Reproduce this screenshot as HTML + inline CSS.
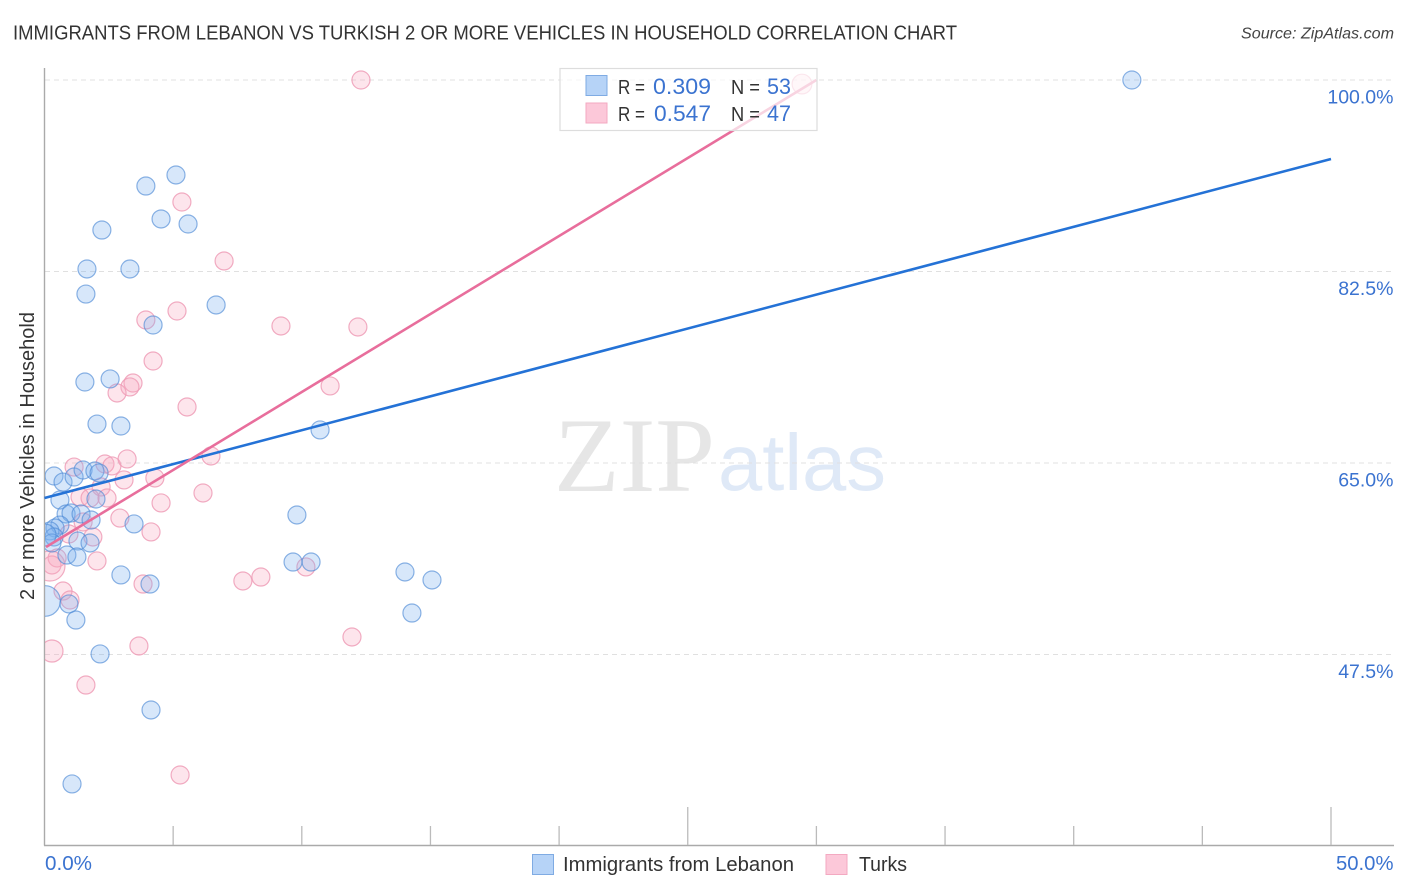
<!DOCTYPE html>
<html lang="en">
<head>
<meta charset="utf-8">
<title>Immigrants from Lebanon vs Turkish 2 or more Vehicles in Household Correlation Chart</title>
<style>
html,body{margin:0;padding:0;background:#fff;width:1406px;height:892px;overflow:hidden}
svg{display:block;font-family:"Liberation Sans",sans-serif}
</style>
</head>
<body>
<svg id="chart" xmlns="http://www.w3.org/2000/svg" width="1406" height="892" viewBox="0 0 1406 892">
  <defs>
    <clipPath id="plot-clip"><rect x="45" y="60" width="1349" height="785"/></clipPath>
  </defs>
  <rect x="0" y="0" width="1406" height="892" fill="#fff"/>
  <text x="13" y="39.5" font-size="20" fill="#333" textLength="944" lengthAdjust="spacingAndGlyphs">IMMIGRANTS FROM LEBANON VS TURKISH 2 OR MORE VEHICLES IN HOUSEHOLD CORRELATION CHART</text>
  <text x="1241" y="38.5" font-size="16" font-style="italic" fill="#444" textLength="153" lengthAdjust="spacingAndGlyphs">Source: ZipAtlas.com</text>

  <g>
    <text x="554" y="491" font-family="'Liberation Serif',serif" font-size="106" fill="#e6e6e6" textLength="161" lengthAdjust="spacingAndGlyphs">ZIP</text>
    <text x="718" y="490" font-size="80" fill="#dfe9f7" textLength="168" lengthAdjust="spacingAndGlyphs">atlas</text>
  </g>

  <g id="grid"></g>
  <g id="axes"></g>
  <g id="points" clip-path="url(#plot-clip)"></g>
  <g id="trends"></g>

  <g>
    <rect x="560" y="68.5" width="257" height="62" fill="#fff" fill-opacity="0.7" stroke="#ddd" stroke-width="1.2"/>
    <rect x="586" y="75.5" width="21" height="20" fill="#b6d3f7" stroke="#7fabe3" stroke-width="1"/>
    <rect x="586" y="103" width="21" height="20" fill="#fcc8d9" stroke="#f3a9c1" stroke-width="1"/>
    <text x="618" y="94" font-size="20.5" fill="#333" textLength="27" lengthAdjust="spacingAndGlyphs">R =</text>
    <text x="653" y="94" font-size="22" fill="#3b73d0" textLength="58" lengthAdjust="spacingAndGlyphs">0.309</text>
    <text x="731" y="94" font-size="20.5" fill="#333" textLength="29" lengthAdjust="spacingAndGlyphs">N =</text>
    <text x="767" y="94" font-size="22" fill="#3b73d0" textLength="24" lengthAdjust="spacingAndGlyphs">53</text>
    <text x="618" y="121" font-size="20.5" fill="#333" textLength="27" lengthAdjust="spacingAndGlyphs">R =</text>
    <text x="654" y="121" font-size="22" fill="#3b73d0" textLength="57" lengthAdjust="spacingAndGlyphs">0.547</text>
    <text x="731" y="121" font-size="20.5" fill="#333" textLength="29" lengthAdjust="spacingAndGlyphs">N =</text>
    <text x="767" y="121" font-size="22" fill="#3b73d0" textLength="24" lengthAdjust="spacingAndGlyphs">47</text>
  </g>

  <text transform="translate(34,600) rotate(-90)" font-size="20" fill="#333" textLength="288" lengthAdjust="spacingAndGlyphs">2 or more Vehicles in Household</text>

  <g>
    <rect x="532.5" y="854.5" width="21" height="20" fill="#b6d3f7" stroke="#7fabe3" stroke-width="1"/>
    <text x="563" y="871" font-size="20" fill="#333" textLength="231" lengthAdjust="spacingAndGlyphs">Immigrants from Lebanon</text>
    <rect x="826" y="854.5" width="21" height="20" fill="#fcc8d9" stroke="#f3a9c1" stroke-width="1"/>
    <text x="859" y="871" font-size="20" fill="#333" textLength="48" lengthAdjust="spacingAndGlyphs">Turks</text>
  </g>
</svg>
<script>
const yTickValues = [100, 82.5, 65, 47.5];
const yTickLabels = ["100.0%", "82.5%", "65.0%", "47.5%"];
const xAxisLabels = ["0.0%", "50.0%"];
const xTickValues = [5, 10, 15, 20, 25, 30, 35, 40, 45, 50];
const xMajorTicks = [25, 50];

const blueX = [42.26,5.11,3.94,4.53,5.58,2.23,1.65,3.32,1.61,6.67,4.22,2.55,1.57,2.04,2.97,10.71,0.37,0.72,1.15,1.50,1.96,2.12,0.60,2.00,9.81,0.84,1.03,1.42,1.81,3.48,0.60,0.41,0.21,1.30,1.77,0.37,0.29,0.87,1.26,2.97,9.66,10.36,14.01,15.06,4.10,14.28,0.95,0.02,1.22,2.16,4.14,1.07,0.02];
const blueY = [100,91.32,90.31,87.30,86.84,86.29,82.73,82.73,80.44,79.44,77.61,72.68,72.40,68.56,68.38,68.02,63.81,63.26,63.72,64.36,64.27,64.09,61.62,61.71,60.25,60.34,60.43,60.34,59.79,59.43,59.33,59.06,58.79,57.87,57.69,58.24,57.69,56.59,56.41,54.77,55.95,55.95,55.04,54.31,53.94,51.29,52.12,52.39,50.65,47.55,42.43,35.67,58.42];
const blueWeight = [1,1,1,1,1,1,1,1,1,1,1,1,1,1,1,1,1,1,1,1,1,1,1,1,1,1,1,1,1,1,1,1,1,1,1,1,1,1,1,1,1,1,1,1,1,1,1,2.9,1,1,1,1,1.5];

const pinkX = [12.30,29.44,5.34,6.98,5.15,3.94,9.19,12.18,4.22,3.44,3.32,2.82,11.10,5.54,1.15,2.35,2.62,3.21,6.47,2.20,3.09,4.29,6.16,1.38,1.77,2.43,4.53,2.93,1.50,4.14,1.88,0.95,2.04,0.49,0.29,0.21,0.72,0.99,7.71,8.41,10.16,3.83,11.95,3.67,0.29,1.61,5.27];
const pinkY = [100,99.63,88.85,83.46,78.89,78.07,77.52,77.43,74.32,72.31,71.95,71.40,72.04,70.12,64.63,64.91,64.73,65.37,65.64,62.81,63.45,63.63,62.26,61.89,61.80,61.80,61.35,59.97,59.61,58.70,58.24,58.51,56.05,56.32,55.68,55.59,53.30,52.48,54.22,54.58,55.50,53.94,49.10,48.28,47.82,44.71,36.49];
const pinkWeight = [1,1.2,1,1,1,1,1,1,1,1,1,1,1,1,1,1,1,1,1,1,1,1,1,1,1,1,1,1,1,1,1,1,1,1,1,2.8,1,1,1,1,1,1,1,1,1.5,1,1];

const blueTrendX = [0, 50];
const blueTrendY = [61.8, 92.78];
const pinkTrendX = [0.06, 30];
const pinkTrendY = [57.32, 100];

const SVGNS = "http://www.w3.org/2000/svg";
function xScale(v) { return 44.5 + (v / 50) * 1286.5; }
function yScale(v) { return 80 + (100 - v) * (574.5 / 52.5); }
function radius(w) { return 9 * Math.sqrt(w); }
function mk(tag, parent, attrs) {
  const el = document.createElementNS(SVGNS, tag);
  for (const k in attrs) el.setAttribute(k, attrs[k]);
  parent.appendChild(el);
  return el;
}

const grid = document.getElementById("grid");
const axes = document.getElementById("axes");
const points = document.getElementById("points");
const trends = document.getElementById("trends");

yTickValues.forEach(function (v, i) {
  const line = mk("line", grid, { x1: 45, x2: 1394, y1: yScale(v), y2: yScale(v), stroke: "#e0e0e0", "stroke-width": 1, "stroke-dasharray": "5 4" });
  
  
  const label = mk("text", axes, { x: 1393.5, y: yScale(v) + 23.5, "text-anchor": "end", "font-size": 19.5, fill: "#3b73d0" });
  
  
  label.textContent = yTickLabels[i];
});

const yAxis = mk("line", axes, { x1: 44.5, x2: 44.5, y1: 68, y2: 845.5, stroke: "#aaa", "stroke-width": 1.4 });


const xAxis = mk("line", axes, { x1: 44, x2: 1394, y1: 845.5, y2: 845.5, stroke: "#aaa", "stroke-width": 1.4 });



xTickValues.forEach(function (v) {
  const top = xMajorTicks.indexOf(v) >= 0 ? 807 : 826;
  const tick = mk("line", axes, { x1: xScale(v), x2: xScale(v), y1: top, y2: 845, stroke: "#bbb", "stroke-width": 1.3 });
  
  
});

const xLabelLeft = mk("text", axes, { x: 45, y: 870, "font-size": 20, fill: "#3b73d0", textLength: 47, lengthAdjust: "spacingAndGlyphs" });


xLabelLeft.textContent = xAxisLabels[0];
const xLabelRight = mk("text", axes, { x: 1336, y: 870, "font-size": 20, fill: "#3b73d0", textLength: 57.5, lengthAdjust: "spacingAndGlyphs" });


xLabelRight.textContent = xAxisLabels[1];

pinkX.forEach(function (v, i) {
  const c = mk("circle", points, { cx: xScale(v), cy: yScale(pinkY[i]), r: radius(pinkWeight[i]), fill: "#f9a8c1", "fill-opacity": 0.3, stroke: "#ee9db7", "stroke-opacity": 0.85, "stroke-width": 1.2 });
  
  
});
blueX.forEach(function (v, i) {
  const c = mk("circle", points, { cx: xScale(v), cy: yScale(blueY[i]), r: radius(blueWeight[i]), fill: "#79aeee", "fill-opacity": 0.3, stroke: "#4f8ad6", "stroke-opacity": 0.65, "stroke-width": 1.2 });
  
  
});

const blueLine = mk("line", trends, { x1: xScale(blueTrendX[0]), y1: yScale(blueTrendY[0]), x2: xScale(blueTrendX[1]), y2: yScale(blueTrendY[1]), stroke: "#2472d6", "stroke-width": 2.6 });


const pinkLine = mk("line", trends, { x1: xScale(pinkTrendX[0]), y1: yScale(pinkTrendY[0]), x2: xScale(pinkTrendX[1]), y2: yScale(pinkTrendY[1]), stroke: "#e86e9c", "stroke-width": 2.6 });


</script>
</body>
</html>
